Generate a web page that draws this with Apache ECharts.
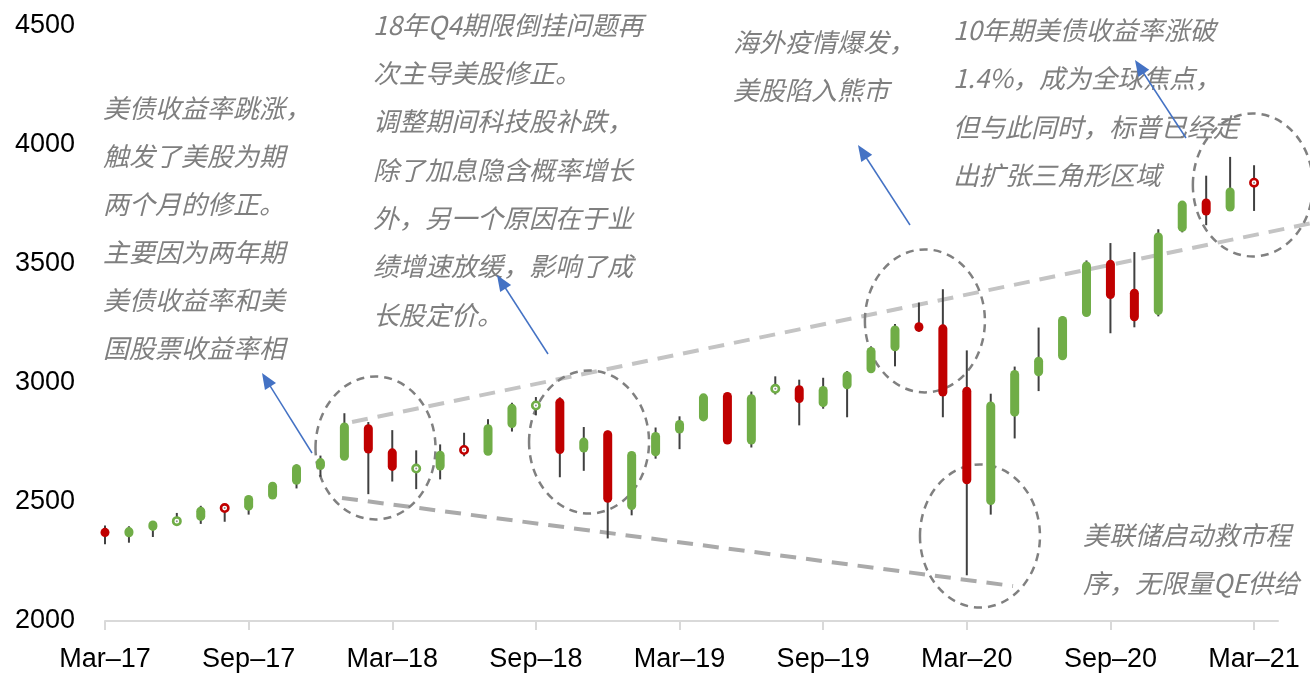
<!DOCTYPE html>
<html>
<head>
<meta charset="utf-8">
<script src="https://cdn.jsdelivr.net/npm/echarts@6/dist/echarts.min.js"></script>
<style>
  html, body { margin: 0; padding: 0; background: #fff; }
  #chart { width: 1310px; height: 673px; }
</style>
</head>
<body>
<div id="chart"></div>
<script>
// S&P 500 monthly candles, Mar-17 .. Mar-21 (axis runs one extra month to Apr-21)
const months = [
  'Mar–17','Apr–17','May–17','Jun–17','Jul–17','Aug–17','Sep–17','Oct–17','Nov–17','Dec–17',
  'Jan–18','Feb–18','Mar–18','Apr–18','May–18','Jun–18','Jul–18','Aug–18','Sep–18','Oct–18','Nov–18','Dec–18',
  'Jan–19','Feb–19','Mar–19','Apr–19','May–19','Jun–19','Jul–19','Aug–19','Sep–19','Oct–19','Nov–19','Dec–19',
  'Jan–20','Feb–20','Mar–20','Apr–20','May–20','Jun–20','Jul–20','Aug–20','Sep–20','Oct–20','Nov–20','Dec–20',
  'Jan–21','Feb–21','Mar–21','Apr–21'
];

const opens  = [2381,2362,2389,2416,2431,2477,2474,2521,2583,2645,
                2684,2816,2715,2633,2643,2719,2705,2821,2897,2926,2718,2791,
                2477,2702,2798,2849,2952,2752,2971,2980,2909,2984,3051,3144,
                3245,3236,2974,2498,2869,3039,3106,3288,3507,3386,3296,3646,
                3765,3731,3843];
const closes = [2363,2384,2412,2423,2470,2472,2519,2575,2648,2674,
                2824,2714,2641,2648,2705,2718,2816,2902,2914,2712,2760,2507,
                2704,2784,2834,2946,2752,2942,2980,2926,2977,3038,3141,3231,
                3226,2954,2585,2912,3044,3100,3271,3500,3363,3270,3622,3756,
                3714,3811,3840];
const lows   = [2322,2329,2353,2406,2408,2417,2447,2520,2557,2606,
                2682,2533,2586,2554,2595,2692,2699,2796,2864,2604,2631,2347,
                2444,2682,2722,2849,2751,2729,2952,2822,2892,2856,3051,3070,
                3215,2856,2192,2447,2767,2966,3101,3285,3209,3234,3280,3633,
                3663,3726,3723];
const highs  = [2401,2398,2419,2454,2484,2491,2519,2583,2658,2695,
                2873,2836,2802,2717,2742,2791,2848,2917,2941,2940,2815,2800,
                2709,2813,2860,2950,2954,2964,3028,3014,3022,3050,3154,3248,
                3338,3394,3137,2955,3069,3233,3280,3515,3588,3550,3646,3760,
                3871,3950,3915];

const yTicks = { min: 2000, max: 4500, step: 500 };

const UP = '#70AD47';
const DOWN = '#C00000';
const WICK = '#404040';
const NOTE = '#7f7f7f';
const NOTE_FONT = 'italic 26px "Noto Sans CJK SC", sans-serif';

const rows = opens.map((o, i) => [i, o, closes[i], lows[i], highs[i]]);

function renderCandle(params, api) {
  const i = api.value(0);
  const o = api.value(1), c = api.value(2), lo = api.value(3), hi = api.value(4);
  const pO = api.coord([i, o]);
  const x = pO[0];
  const yO = pO[1];
  const yC = api.coord([i, c])[1];
  const yL = api.coord([i, lo])[1];
  const yH = api.coord([i, hi])[1];
  const color = c >= o ? UP : DOWN;
  const children = [{
    type: 'line',
    shape: { x1: x, y1: yH, x2: x, y2: yL },
    style: { stroke: WICK, lineWidth: 2 }
  }];
  if (Math.abs(c - o) < 18) {
    // near-flat month: drawn as a small open ring
    const ym = (yO + yC) / 2;
    children.push({ type: 'circle', shape: { cx: x, cy: ym, r: 3.7 },
                    style: { fill: '#fff', stroke: color, lineWidth: 2.6 } });
    children.push({ type: 'circle', shape: { cx: x, cy: ym, r: 1 },
                    style: { fill: '#8c8c8c' } });
  } else {
    const top = Math.min(yO, yC) - 2.5;
    const bot = Math.max(yO, yC) + 2.5;
    children.push({ type: 'rect',
                    shape: { x: x - 4.5, y: top, width: 9, height: bot - top, r: 4.5 },
                    style: { fill: color } });
  }
  return { type: 'group', children };
}

const chart = echarts.init(document.getElementById('chart'), null, { renderer: 'canvas' });

chart.setOption({
  animation: false,
  backgroundColor: '#fff',
  grid: { left: 105, right: 32, top: 26, bottom: 52 },
  xAxis: {
    type: 'category',
    data: months,
    boundaryGap: false,
    axisLine: { lineStyle: { color: '#d9d9d9', width: 2 } },
    axisTick: { interval: 5, length: 9, lineStyle: { color: '#d9d9d9', width: 2 } },
    axisLabel: { interval: 5, fontSize: 27, color: '#000', margin: 25,
                 fontFamily: '"Liberation Sans", Arial, sans-serif' },
    splitLine: { show: false }
  },
  yAxis: {
    type: 'value',
    min: yTicks.min, max: yTicks.max, interval: yTicks.step,
    axisLine: { show: false },
    axisTick: { show: false },
    splitLine: { show: false },
    axisLabel: { fontSize: 27, color: '#000', margin: 30, padding: [5, 0, 0, 0],
                 formatter: v => String(v),
                 fontFamily: '"Liberation Sans", Arial, sans-serif' }
  },
  series: [{
    type: 'custom',
    renderItem: renderCandle,
    data: rows,
    encode: { x: 0, y: [1, 2, 3, 4] },
    z: 5
  }]
});

// ---- annotations: trend lines and circled regions anchored in data space ----
const x0 = chart.convertToPixel({ xAxisIndex: 0 }, 0);
const x1 = chart.convertToPixel({ xAxisIndex: 0 }, 1);
const stepX = x1 - x0;
const px = (i, v) => [x0 + i * stepX, chart.convertToPixel({ yAxisIndex: 0 }, v)];

const trendLines = [
  { from: [10.32, 2836], to: [50.33, 3670], color: '#c4c4c4' },
  { from: [9.9, 2517],   to: [37.93, 2147], color: '#aaaaaa' }
];
const rings = [
  [11.30, 2727], [20.22, 2752], [34.25, 3261], [36.55, 2357], [47.95, 3832]
];

const notes = [
  { x: 103, y: 108, dy: 48, lines: ['美债收益率跳涨，', '触发了美股为期', '两个月的修正。',
                                     '主要因为两年期', '美债收益率和美', '国股票收益率相'] },
  { x: 373, y: 25, dy: 48.3, lines: ['18年Q4期限倒挂问题再', '次主导美股修正。', '调整期间科技股补跌，',
                                      '除了加息隐含概率增长', '外，另一个原因在于业', '绩增速放缓，影响了成', '长股定价。'] },
  { x: 733, y: 42, dy: 48, lines: ['海外疫情爆发，', '美股陷入熊市'] },
  { x: 953, y: 30, dy: 48.5, lines: ['10年期美债收益率涨破', '1.4%，成为全球焦点，',
                                      '但与此同时，标普已经走', '出扩张三角形区域'] },
  { x: 1083, y: 535, dy: 48, lines: ['美联储启动救市程', '序，无限量QE供给'] }
];

const arrows = [
  [[312, 453], [262, 373]],
  [[548, 354], [497, 275]],
  [[910, 225], [858, 145]],
  [[1186, 138], [1135, 60]]
];

const gfx = [];

trendLines.forEach(t => {
  const a = px(t.from[0], t.from[1]);
  const b = px(t.to[0], t.to[1]);
  gfx.push({ type: 'line', z: 2, silent: true,
             shape: { x1: a[0], y1: a[1], x2: b[0], y2: b[1] },
             style: { stroke: t.color, lineWidth: 4, lineDash: [16, 10] } });
});

rings.forEach(r => {
  const c = px(r[0], r[1]);
  gfx.push({ type: 'ellipse', z: 3, silent: true,
             shape: { cx: c[0], cy: c[1], rx: 60, ry: 71.5 },
             style: { fill: 'none', stroke: '#808080', lineWidth: 2.5, lineDash: [8, 6] } });
});

notes.forEach(n => {
  n.lines.forEach((line, k) => {
    gfx.push({ type: 'text', z: 10, silent: true,
               style: { text: line, x: n.x, y: n.y + k * n.dy, font: NOTE_FONT,
                        fill: NOTE, textAlign: 'left', textVerticalAlign: 'middle', verticalAlign: 'middle' } });
  });
});

arrows.forEach(([tail, tip]) => {
  const dx = tip[0] - tail[0], dy = tip[1] - tail[1];
  const len = Math.hypot(dx, dy);
  const ux = dx / len, uy = dy / len;
  const hl = 16, hw = 6.5;
  const bx = tip[0] - ux * hl, by = tip[1] - uy * hl;
  gfx.push({ type: 'line', z: 11, silent: true,
             shape: { x1: tail[0], y1: tail[1], x2: bx + ux * 2, y2: by + uy * 2 },
             style: { stroke: '#4472C4', lineWidth: 1.5 } });
  gfx.push({ type: 'polygon', z: 11, silent: true,
             shape: { points: [tip, [bx - uy * hw, by + ux * hw], [bx + uy * hw, by - ux * hw]] },
             style: { fill: '#4472C4' } });
});

chart.setOption({ graphic: { elements: gfx } });
</script>
</body>
</html>
